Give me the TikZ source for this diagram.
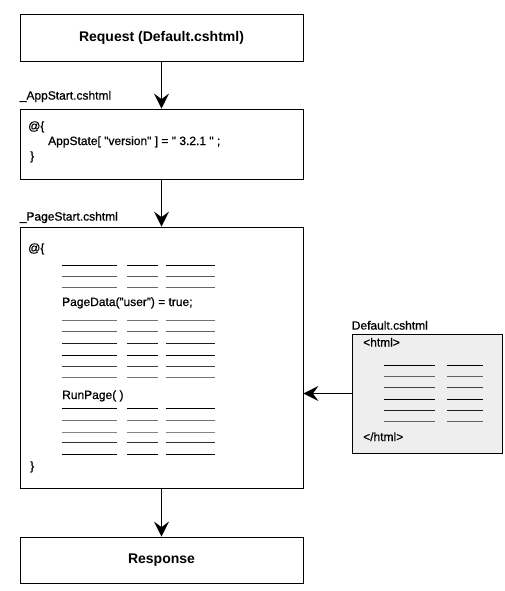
\documentclass[tikz,border=0pt]{standalone}
\usepackage{fontspec}
\setmainfont{Liberation Sans}
\newfontfamily\codefont{Liberation Sans}[FakeBold=0.7]
\usetikzlibrary{arrows.meta, positioning, calc}

\tikzset{
  block/.style={draw, line width=0.8pt, minimum width=283pt, inner sep=0pt},
  title/.style={font=\bfseries\fontsize{14}{16}\selectfont},
  flow/.style={line width=1.4pt, -{Stealth[length=15pt,width=15pt,inset=5.5pt]}},
  code/.style={anchor=base west, inner sep=0pt, font=\codefont\fontsize{12}{14}\selectfont},
  filelabel/.style={anchor=base west, inner sep=0pt, font=\codefont\fontsize{12}{14}\selectfont},
  dummy/.style={line width=0.9pt},
}

\begin{document}
\begin{tikzpicture}[x=1pt,y=-1pt]
    \useasboundingbox (0,0) rectangle (504,591);

    % Main boxes
    \node[block, title, minimum height=47pt] (request) at (161.5,37.5) {Request (Default.cshtml)};
    \node[block, minimum height=70pt] (appstart) at (161.5,144) {};
    \node[block, minimum height=261pt] (pagestart) at (161.5,357.5) {};
    \node[block, title, minimum height=46pt] (response) at (161.5,560) {Response};
    \node[block, fill=gray!13, minimum width=150pt, minimum height=119pt] (default) at (427,393.5) {};

    % File labels
    \node[filelabel, yshift=9pt] (applabel) at (appstart.north west) {\_AppStart.cshtml};
    \node[filelabel, yshift=6pt] (pagelabel) at (pagestart.north west) {\_PageStart.cshtml};
    \node[filelabel, yshift=4pt] (defaultlabel) at (default.north west) {Default.cshtml};

    % _AppStart code
    \node[code] (appopen) at (28,130) {@\{};
    \node[code] (appline) at (48,145) {AppState[ "version" ] = " 3.2.1 " ;};
    \node[code] (appclose) at (30,160) {\}};

    % _PageStart code
    \node[code] (pageopen) at (28,252) {@\{};
    \node[code] (pagedata) at (62,306) {PageData(”user”) = true;};
    \node[code] (runpage) at (62,399) {RunPage( )};
    \node[code] (pageclose) at (30,470) {\}};

    % Placeholder lines in _PageStart
    \foreach \y/\col in {265/black, 276/black!65, 287.5/black!60,
                         320.5/black!55, 331.5/black!62, 343.3/black!88, 355/black,
                         366/black!75, 377.3/black!55,
                         408.3/black, 420/black!55, 432/black!48, 442.7/black!82, 454.3/black}
        \foreach \a/\b in {62/116.5, 127/158, 166/215}
            \draw[dummy, \col] (\a,\y) -- (\b,\y);

    % Default.cshtml code
    \node[code] (htmlopen) at (363,346.5) {<html>};
    \node[code] (htmlclose) at (363,441) {</html>};
    \foreach \y/\col in {365.7/black, 376.3/black!62, 387.3/black!75, 399/black,
                         410.3/black!88, 421/black!62}
        \foreach \a/\b in {384/434.5, 447/483}
            \draw[dummy, \col] (\a,\y) -- (\b,\y);

    % Flow arrows
    \draw[flow] (request) -- (appstart);
    \draw[flow] (appstart) -- (pagestart);
    \draw[flow] (pagestart) -- (response);
    \draw[flow] (default.west) -- (default.west -| pagestart.east);
\end{tikzpicture}
\end{document}
